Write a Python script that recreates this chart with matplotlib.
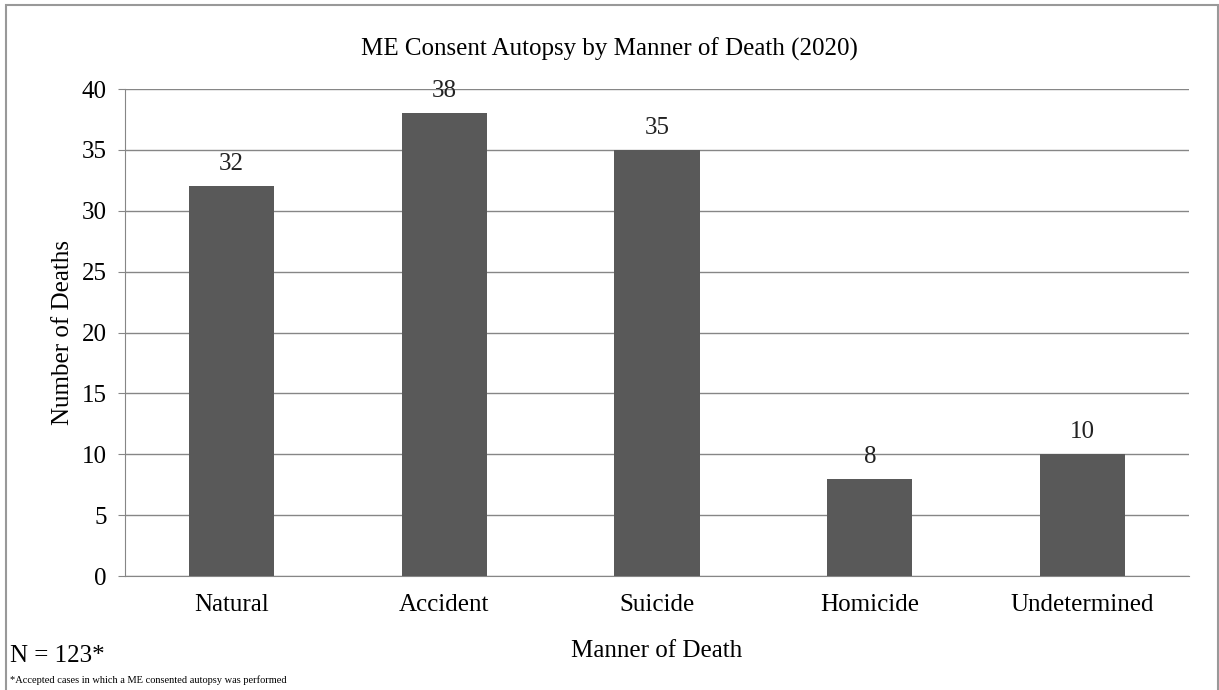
import matplotlib.pyplot as plt
from matplotlib.patches import Rectangle

categories = ['Natural', 'Accident', 'Suicide', 'Homicide', 'Undetermined']
deaths = [32, 38, 35, 8, 10]
y_ticks = [0, 5, 10, 15, 20, 25, 30, 35, 40]

plt.rcParams['font.family'] = ['Liberation Serif', 'DejaVu Serif']

fig = plt.figure(figsize=(12.19, 6.90), dpi=100)
ax = fig.add_axes([0.1025, 0.1652, 0.8729, 0.7058])

x = range(len(categories))
bars = ax.bar(x, deaths, width=0.4, color='#595959', zorder=3)
for xi, v in zip(x, deaths):
    ax.annotate(str(v), (xi, v), xytext=(0, 8), textcoords='offset points',
                ha='center', va='bottom', fontsize=18, color='#222222')

ax.set_xlim(-0.5, len(categories) - 0.5)
ax.set_ylim(0, 40)
ax.set_yticks(y_ticks)
ax.set_xticks(list(x))
ax.set_xticklabels(categories)
ax.tick_params(axis='y', length=5, color='#868686', labelsize=18, pad=8)
ax.tick_params(axis='x', length=0, labelsize=18, pad=13)
ax.grid(axis='y', color='#868686', linewidth=1, zorder=0)
for s in ['top', 'right']:
    ax.spines[s].set_visible(False)
for s in ['left', 'bottom']:
    ax.spines[s].set_color('#868686')

ax.set_ylabel('Number of Deaths', fontsize=18, labelpad=6)
ax.set_xlabel('Manner of Death', fontsize=18, labelpad=17)
fig.text(0.5, 0.928, 'ME Consent Autopsy by Manner of Death (2020)',
         ha='center', va='center', fontsize=18)

fig.text(0.008, 0.05, 'N = 123*', ha='left', va='center', fontsize=18)
fig.text(0.008, 0.014, '*Accepted cases in which a ME consented autopsy was performed',
         ha='left', va='center', fontsize=7.5)

fig.patches.append(Rectangle((0.005, -0.01), 0.994, 1.0028, transform=fig.transFigure,
                             fill=False, edgecolor='#999999', linewidth=1.5))

fig.savefig('out.png', dpi=100)
